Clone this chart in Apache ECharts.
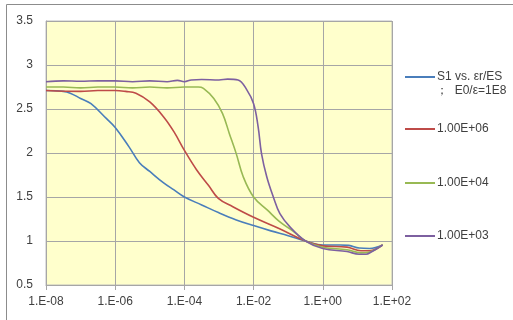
<!DOCTYPE html>
<html>
<head>
<meta charset="utf-8">
<script src="https://cdn.jsdelivr.net/npm/echarts@6/dist/echarts.min.js"></script>
<style>
html,body{margin:0;padding:0;background:#fff;}
#chart{width:513px;height:320px;}
</style>
</head>
<body>
<div id="chart"></div>
<script>
// Series names
const seriesNames = ['S1 vs. εr/ES', '1.00E+06', '1.00E+04', '1.00E+03'];
const legendSubText = '；  E0/ε=1E8';
// X tick labels (log axis, every two decades)
const xTickLabels = ['1.E-08', '1.E-06', '1.E-04', '1.E-02', '1.E+00', '1.E+02'];

// x given as log10(x); y
const blueLogX = [-8, -7.5, -7.3, -7.0, -6.7, -6.25, -6.0, -5.6, -5.3, -5.0, -4.6, -4.3, -4.0, -3.5, -3.0, -2.5, -2.0, -1.5, -1.0, -0.5, 0.0, 0.5, 0.75, 1.05, 1.35, 1.73];
const blueY    = [2.71, 2.70, 2.68, 2.62, 2.56, 2.39, 2.29, 2.07, 1.89, 1.79, 1.66, 1.58, 1.50, 1.41, 1.32, 1.24, 1.175, 1.115, 1.06, 1.0, 0.955, 0.955, 0.95, 0.92, 0.915, 0.955];

const redLogX = [-8, -7, -6.5, -6.0, -5.7, -5.4, -5.0, -4.6, -4.3, -4.0, -3.65, -3.3, -3.02, -2.6, -2.0, -1.25, -0.5, 0.0, 0.7, 1.1, 1.35, 1.73];
const redY    = [2.71, 2.70, 2.71, 2.71, 2.70, 2.68, 2.58, 2.41, 2.24, 2.03, 1.81, 1.63, 1.485, 1.39, 1.27, 1.14, 1.0, 0.945, 0.93, 0.89, 0.89, 0.955];

const greenLogX = [-8, -7.5, -7, -6.5, -6.0, -5.5, -5.0, -4.5, -4.0, -3.6, -3.45, -3.15, -2.9, -2.7, -2.5, -2.3, -2.0, -1.6, -1.25, -0.85, -0.5, 0.0, 0.7, 1.1, 1.35, 1.73];
const greenY    = [2.75, 2.75, 2.74, 2.75, 2.75, 2.74, 2.75, 2.74, 2.75, 2.75, 2.735, 2.62, 2.45, 2.22, 1.99, 1.73, 1.50, 1.35, 1.22, 1.11, 1.0, 0.93, 0.90, 0.865, 0.875, 0.955];

const purpleLogX = [-8, -7.5, -7, -6.5, -6.0, -5.5, -5.0, -4.5, -4.2, -4.0, -3.8, -3.5, -3.0, -2.75, -2.45, -2.2, -2.0, -1.87, -1.77, -1.62, -1.43, -1.24, -0.95, -0.5, 0.0, 0.7, 1.05, 1.25, 1.4, 1.73];
const purpleY    = [2.81, 2.82, 2.815, 2.82, 2.82, 2.81, 2.82, 2.81, 2.825, 2.81, 2.83, 2.835, 2.83, 2.84, 2.83, 2.72, 2.56, 2.30, 1.99, 1.73, 1.50, 1.31, 1.16, 1.0, 0.915, 0.88, 0.85, 0.85, 0.875, 0.955];

const colors = ['#4A7EBB', '#BE4B48', '#98B954', '#7D60A0'];

function pairs(lx, y) { return lx.map((e, i) => [Math.pow(10, e), y[i]]); }
const allData = [pairs(blueLogX, blueY), pairs(redLogX, redY), pairs(greenLogX, greenY), pairs(purpleLogX, purpleY)];

const FONT = 'Liberation Sans';
const chart = echarts.init(document.getElementById('chart'), null, {renderer: 'canvas'});

const legendTops = [65, 117, 171, 224];
const legends = seriesNames.map((n, i) => ({
  data: [n], left: 400, top: legendTops[i], orient: 'vertical',
  icon: 'rect', itemWidth: 30, itemHeight: 2, itemGap: 0, selectedMode: false,
  textStyle: {fontFamily: FONT, fontSize: 12, color: '#404040', lineHeight: 14, padding: [0,0,0,-3]}
}));

chart.setOption({
  animation: false,
  color: colors,
  grid: {left: 46, right: 121, top: 21, bottom: 35, show: true, backgroundColor: '#FFFFCC', borderColor: '#BFBFBF', borderWidth: 1},
  legend: legends,
  graphic: [
    {type: 'rect', shape: {x: 6.5, y: 4.5, width: 620, height: 400}, style: {fill: null, stroke: '#8C8C8C', lineWidth: 1}, silent: true},
    {type: 'text', left: 436, top: 85, style: {text: legendSubText, font: '12px "Liberation Sans"', fill: '#404040'}}
  ],
  xAxis: {
    type: 'log', logBase: 100, min: 1e-8, max: 1e2,
    axisLine: {show: true, lineStyle: {color: '#A6A6A6'}},
    axisTick: {show: true, length: 5, lineStyle: {color: '#A6A6A6'}},
    splitLine: {show: true, lineStyle: {color: '#A6A6A6', width: 1}},
    minorTick: {show: false}, minorSplitLine: {show: false},
    axisLabel: {
      fontFamily: FONT, fontSize: 12, color: '#404040', margin: 11,
      formatter: function (v) {
        const e = Math.round(Math.log10(v));
        const idx = (e + 8) / 2;
        return xTickLabels[idx] !== undefined ? xTickLabels[idx] : '';
      }
    }
  },
  yAxis: {
    type: 'value', min: 0.5, max: 3.5, interval: 0.5,
    axisLine: {show: true, lineStyle: {color: '#A6A6A6'}},
    axisTick: {show: false},
    splitLine: {show: true, lineStyle: {color: '#A6A6A6', width: 1}},
    axisLabel: {fontFamily: FONT, fontSize: 12, color: '#404040', margin: 13}
  },
  series: seriesNames.map((n, i) => ({
    name: n, type: 'line', data: allData[i], smooth: 0.4, showSymbol: false, symbol: 'none',
    lineStyle: {width: 1.6, color: colors[i]}, itemStyle: {color: colors[i]}, z: 2 + i
  }))
});
</script>
</body>
</html>
